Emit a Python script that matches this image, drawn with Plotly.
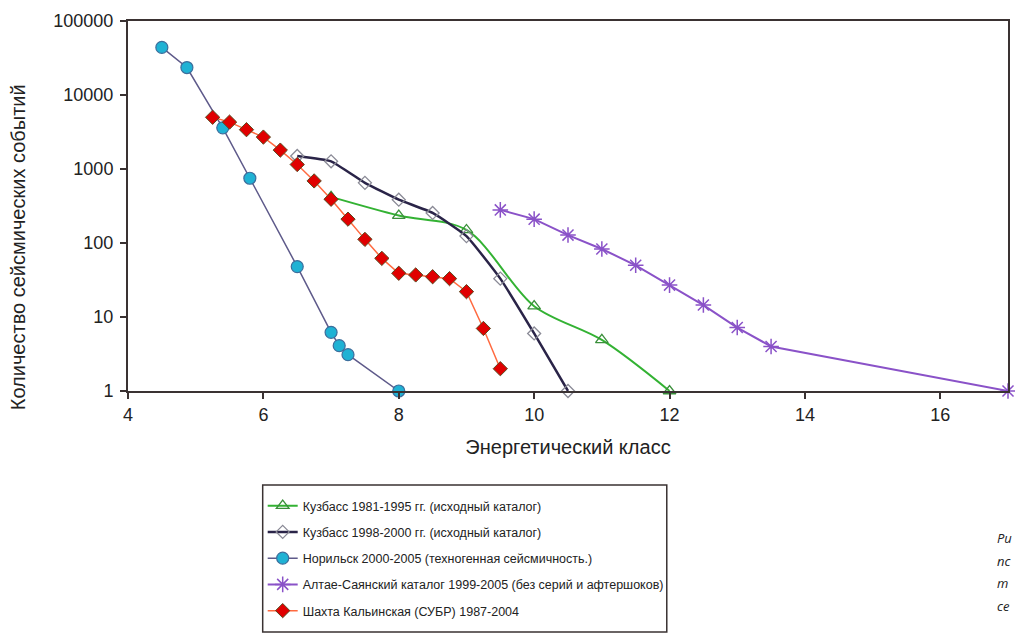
import plotly.graph_objects as go

# Data
kuz81_x = [7.0, 8.0, 9.0, 10.0, 11.0, 12.0]
kuz81_y = [420, 235, 150, 14, 4.9, 1]

kuz98_x = [6.5, 7.0, 7.5, 8.0, 8.5, 9.0, 9.5, 10.0, 10.5]
kuz98_y = [1500, 1270, 650, 385, 255, 124, 33, 6, 1]

nor_x = [4.5, 4.87, 5.4, 5.8, 6.5, 7.0, 7.12, 7.25, 8.0]
nor_y = [44000, 23500, 3600, 750, 48, 6.2, 4.1, 3.1, 1]

alt_x = [9.5, 10.0, 10.5, 11.0, 11.5, 12.0, 12.5, 13.0, 13.5, 17.0]
alt_y = [280, 210, 128, 83, 50, 27, 14.5, 7.2, 4.0, 1]

sha_x = [5.25, 5.5, 5.75, 6.0, 6.25, 6.5, 6.75, 7.0, 7.25, 7.5, 7.75, 8.0,
         8.25, 8.5, 8.75, 9.0, 9.25, 9.5]
sha_y = [5000, 4300, 3400, 2700, 1800, 1150, 690, 390, 210, 112, 62, 39,
         37, 35, 33, 22, 7, 2]

names = [
    "Кузбасс 1981-1995 гг. (исходный каталог)",
    "Кузбасс 1998-2000 гг. (исходный каталог)",
    "Норильск 2000-2005 (техногенная сейсмичность.)",
    "Алтае-Саянский каталог 1999-2005 (без серий и афтершоков)",
    "Шахта Кальинская (СУБР) 1987-2004",
]

y_ticks = [1, 10, 100, 1000, 10000, 100000]
y_tick_text = ["1", "10", "100", "1000", "10000", "100000"]
x_ticks = [4, 6, 8, 10, 12, 14, 16]

x_title = "Энергетический класс"
y_title = "Количество сейсмических событий"
# caption fragments visible at the right edge of the reference image
side_text = ["Ри", "пс", "т", "се"]

FONT = "Liberation Sans, Arial, sans-serif"
AX = "#3a3232"

W, H = 1015, 638
L, T, R, B = 128, 21, 5, 638 - 391
PW = W - L - R   # 882
PH = H - T - B   # 370


def px(xp):
    return (xp - L) / PW


def py(yp):
    return (T + PH - yp) / PH


fig = go.Figure()

fig.add_trace(go.Scatter(
    x=kuz81_x, y=kuz81_y, name=names[0], mode="lines+markers",
    line=dict(color="#33b233", width=2, shape="spline", smoothing=0.9),
    marker=dict(symbol="triangle-up-open", size=11, color="#3a8f3a",
                line=dict(width=1.3, color="#3a8f3a")),
    cliponaxis=False, legendgroup="a"))

fig.add_trace(go.Scatter(
    x=kuz98_x, y=kuz98_y, name=names[1], mode="lines+markers",
    line=dict(color="#2a2448", width=2.5, shape="spline", smoothing=0.4),
    marker=dict(symbol="diamond-open", size=10, color="#8a8a96",
                line=dict(width=1.3, color="#8a8a96")),
    cliponaxis=False, legendgroup="b"))

fig.add_trace(go.Scatter(
    x=nor_x, y=nor_y, name=names[2], mode="lines+markers",
    line=dict(color="#5e5a8a", width=1.5),
    marker=dict(symbol="circle", size=12, color="#1fb2d4",
                line=dict(width=1.2, color="#3c6e9c")),
    cliponaxis=False, legendgroup="c"))

fig.add_trace(go.Scatter(
    x=alt_x, y=alt_y, name=names[3], mode="lines+markers",
    line=dict(color="#8a52c8", width=2),
    marker=dict(symbol="asterisk-open", size=13,
                line=dict(width=1.5, color="#6a38b0")),
    cliponaxis=False, legendgroup="d"))

fig.add_trace(go.Scatter(
    x=sha_x, y=sha_y, name=names[4], mode="lines+markers",
    line=dict(color="#ff6a40", width=1.5),
    marker=dict(symbol="diamond", size=11, color="#e00000",
                line=dict(width=1, color="#5a4a20")),
    cliponaxis=False, legendgroup="e"))

fig.add_annotation(
    text=y_title, textangle=-90, xref="paper", yref="paper",
    x=px(18), y=py(247), xanchor="center", yanchor="middle",
    showarrow=False, font=dict(family=FONT, size=20, color="#222"))

for i, t in enumerate(side_text):
    fig.add_annotation(
        text="<i>" + t + "</i>", xref="paper", yref="paper", x=px(997),
        y=py(538 + 22.5 * i), xanchor="left", yanchor="middle",
        showarrow=False,
        font=dict(family="Open Sans, sans-serif", size=13, color="#222"))

# legend frame
fig.add_shape(type="rect", xref="paper", yref="paper",
              x0=px(263), x1=px(668), y0=py(632), y1=py(485),
              line=dict(color="#3a3232", width=1.5), fillcolor="rgba(0,0,0,0)")

fig.update_layout(
    width=W, height=H,
    margin=dict(l=L, r=R, t=T, b=B),
    paper_bgcolor="white", plot_bgcolor="white",
    font=dict(family=FONT, size=18, color="#222"),
    showlegend=True,
    legend=dict(
        x=px(263), y=py(491), xanchor="left", yanchor="top",
        bgcolor="rgba(0,0,0,0)", borderwidth=0,
        font=dict(family=FONT, size=12.5, color="#222"),
        traceorder="grouped", tracegroupgap=7, itemwidth=30),
    xaxis=dict(
        range=[4, 17], tickvals=x_ticks, showgrid=False, zeroline=False,
        showline=True, linecolor=AX, linewidth=2, mirror=True,
        ticks="outside", ticklen=6, tickwidth=1.5, tickcolor=AX,
        title=dict(text=x_title, font=dict(family=FONT, size=20), standoff=16),
        tickfont=dict(family=FONT, size=18, color="#222")),
    yaxis=dict(
        type="log", range=[0, 5], tickvals=y_ticks, ticktext=y_tick_text,
        showgrid=False, zeroline=False,
        showline=True, linecolor=AX, linewidth=2, mirror=True,
        ticks="outside", ticklen=6, tickwidth=1.5, tickcolor=AX,
        ticklabelstandoff=3,
        tickfont=dict(family=FONT, size=18, color="#222")),
)

fig.write_html(
    "out.html",
    config={"displayModeBar": False},
    post_script="document.body.style.margin='0';document.body.style.overflow='hidden';")
